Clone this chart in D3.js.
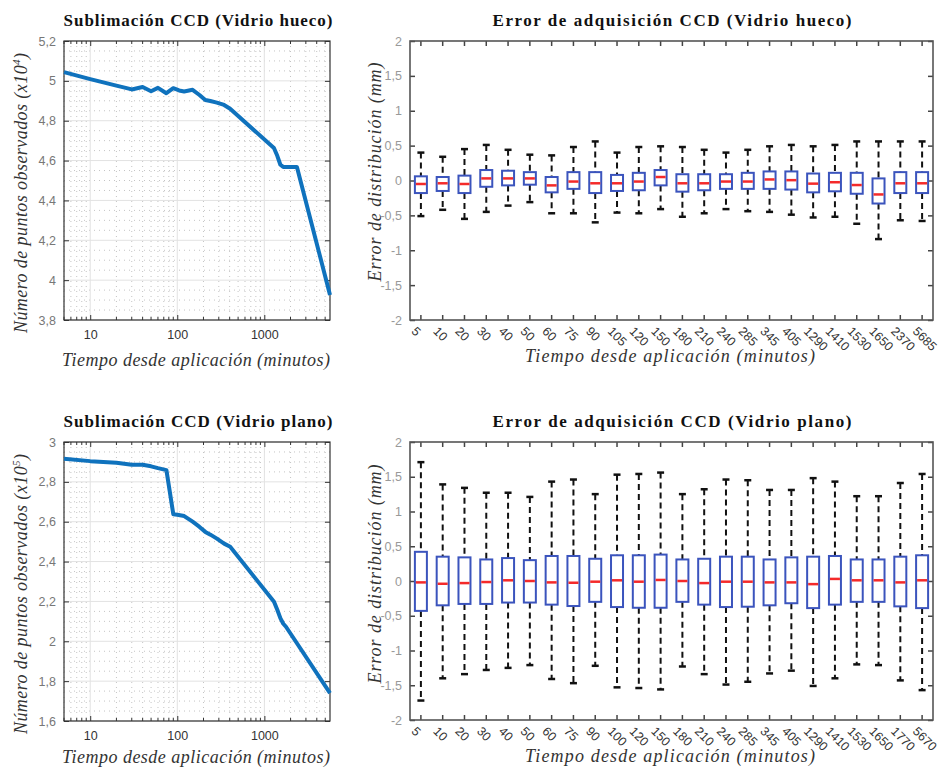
<!DOCTYPE html>
<html>
<head>
<meta charset="utf-8">
<script src="https://cdn.jsdelivr.net/npm/d3@7"></script>
<style>
  body { margin: 0; background: #fff; }
  svg text { font-family: "Liberation Sans", Arial, sans-serif; }
</style>
</head>
<body>
<div id="chart"></div>
<script>
// --- Sublimacion: tiempo (min) y numero de puntos observados ---
const huecoTiempos = [5, 10, 20, 30, 40, 50, 60, 75, 90, 105, 120, 150, 180, 210, 240, 285, 345, 405, 1290, 1410, 1530, 1650, 2370, 5685];
const huecoPuntos = [5.044, 5.009, 4.976, 4.957, 4.969, 4.948, 4.965, 4.938, 4.963, 4.952, 4.947, 4.955, 4.929, 4.904, 4.899, 4.891, 4.879, 4.86, 4.663, 4.624, 4.579, 4.568, 4.568, 3.926];

const planoTiempos = [5, 10, 20, 30, 40, 50, 60, 75, 90, 100, 120, 150, 180, 210, 240, 285, 345, 405, 1290, 1410, 1530, 1650, 1770, 5670];
const planoPuntos = [2.916, 2.904, 2.896, 2.886, 2.886, 2.878, 2.869, 2.859, 2.6375, 2.635, 2.6285, 2.60, 2.574, 2.549, 2.535, 2.515, 2.49, 2.474, 2.1985, 2.157, 2.115, 2.088, 2.073, 1.74];

// --- Error de adquisicion: estadisticos de cada caja (mm) ---
const huecoEtiquetas = ["5", "10", "20", "30", "40", "50", "60", "75", "90", "105", "120", "150", "180", "210", "240", "285", "345", "405", "1290", "1410", "1530", "1650", "2370", "5685"];
const huecoBigoteSup = [0.40, 0.34, 0.45, 0.51, 0.44, 0.37, 0.36, 0.48, 0.56, 0.40, 0.48, 0.49, 0.48, 0.44, 0.40, 0.44, 0.49, 0.51, 0.49, 0.51, 0.56, 0.56, 0.56, 0.56];
const huecoQ3 = [0.06, 0.05, 0.07, 0.15, 0.14, 0.12, 0.05, 0.12, 0.12, 0.08, 0.11, 0.15, 0.09, 0.09, 0.09, 0.11, 0.13, 0.13, 0.10, 0.11, 0.11, 0.03, 0.12, 0.12];
const huecoMediana = [-0.05, -0.04, -0.05, 0.03, 0.03, 0.03, -0.07, -0.015, -0.04, -0.04, -0.015, 0.05, -0.04, -0.04, -0.015, -0.015, 0.015, 0.005, -0.045, -0.025, -0.065, -0.20, -0.04, -0.04];
const huecoQ1 = [-0.18, -0.15, -0.18, -0.09, -0.07, -0.06, -0.17, -0.12, -0.18, -0.15, -0.14, -0.07, -0.16, -0.14, -0.12, -0.12, -0.12, -0.13, -0.17, -0.155, -0.19, -0.33, -0.18, -0.18];
const huecoBigoteInf = [-0.51, -0.42, -0.55, -0.45, -0.36, -0.31, -0.47, -0.47, -0.60, -0.46, -0.47, -0.41, -0.52, -0.47, -0.41, -0.44, -0.45, -0.49, -0.53, -0.52, -0.62, -0.84, -0.57, -0.58];

const planoEtiquetas = ["5", "10", "20", "30", "40", "50", "60", "75", "90", "100", "120", "150", "180", "210", "240", "285", "345", "405", "1290", "1410", "1530", "1650", "1770", "5670"];
const planoBigoteSup = [1.71, 1.39, 1.34, 1.27, 1.27, 1.21, 1.43, 1.46, 1.25, 1.53, 1.54, 1.56, 1.25, 1.32, 1.46, 1.45, 1.31, 1.31, 1.48, 1.43, 1.22, 1.22, 1.41, 1.54];
const planoQ3 = [0.42, 0.35, 0.34, 0.31, 0.33, 0.30, 0.36, 0.36, 0.32, 0.37, 0.37, 0.38, 0.31, 0.32, 0.35, 0.35, 0.31, 0.34, 0.35, 0.36, 0.31, 0.31, 0.35, 0.37];
const planoMediana = [-0.02, -0.04, -0.03, -0.015, 0.01, 0.0, -0.02, -0.025, -0.01, 0.01, -0.01, 0.015, 0.0, -0.03, -0.01, -0.01, -0.02, -0.02, -0.045, 0.03, 0.01, 0.01, -0.02, 0.01];
const planoQ1 = [-0.43, -0.35, -0.33, -0.33, -0.31, -0.31, -0.34, -0.36, -0.30, -0.375, -0.385, -0.385, -0.30, -0.34, -0.375, -0.37, -0.35, -0.32, -0.39, -0.34, -0.30, -0.30, -0.365, -0.39];
const planoBigoteInf = [-1.72, -1.40, -1.34, -1.28, -1.25, -1.21, -1.41, -1.47, -1.22, -1.53, -1.54, -1.56, -1.23, -1.34, -1.49, -1.45, -1.33, -1.29, -1.51, -1.40, -1.20, -1.21, -1.43, -1.57];

// tick labels
const ticksLog = [10, 100, 1000];
const ticksHueco = [3.8, 4, 4.2, 4.4, 4.6, 4.8, 5, 5.2];
const ticksPlano = [1.6, 1.8, 2, 2.2, 2.4, 2.6, 2.8, 3];
const ticksError = [-2, -1.5, -1, -0.5, 0, 0.5, 1, 1.5, 2];

const width = 941, height = 769;
const coma = d => String(+d.toFixed(2)).replace(".", ",");

const svg = d3.select("#chart").append("svg")
  .attr("width", width)
  .attr("height", height);

function titulo(txt, cx, y, len) {
  svg.append("text")
    .attr("x", cx).attr("y", y)
    .attr("text-anchor", "middle")
    .style("font-family", "'Liberation Serif', 'Times New Roman', serif")
    .style("font-weight", "bold")
    .style("font-size", "17px")
    .attr("textLength", len)
    .attr("lengthAdjust", "spacing")
    .attr("fill", "#111")
    .text(txt);
}

function etiquetaX(cx, y, len) {
  svg.append("text")
    .attr("x", cx).attr("y", y)
    .attr("text-anchor", "middle")
    .style("font-family", "'Liberation Serif', 'Times New Roman', serif")
    .style("font-style", "italic")
    .style("font-size", "18px")
    .attr("textLength", len)
    .attr("lengthAdjust", "spacing")
    .attr("fill", "#333")
    .text("Tiempo desde aplicación (minutos)");
}

function etiquetaY(cx, cy, len, txt, sup) {
  const t = svg.append("text")
    .attr("transform", `translate(${cx},${cy}) rotate(-90)`)
    .attr("text-anchor", "middle")
    .style("font-family", "'Liberation Serif', 'Times New Roman', serif")
    .style("font-style", "italic")
    .style("font-size", "18px")
    .attr("fill", "#333");
  t.append("tspan").text(txt);
  if (sup) {
    t.append("tspan").attr("dy", -7).style("font-size", "11px").text(sup);
    t.append("tspan").attr("dy", 7).text(")");
  }
  if (len) t.attr("textLength", len).attr("lengthAdjust", "spacing");
}

// ---- line panel (log x) ----
function panelLinea(tiempos, puntos, box, yDom, yTicks) {
  const x = d3.scaleLog().domain([tiempos[0], tiempos[tiempos.length - 1]]).range([box.x0, box.x1]);
  const y = d3.scaleLinear().domain(yDom).range([box.y1, box.y0]);
  const g = svg.append("g");

  // minor grid
  const minX = x.ticks().filter(t => ticksLog.indexOf(t) < 0);
  const minY = d3.range(yDom[0], yDom[1] + 1e-9, 0.05).filter(v => Math.abs(v * 5 - Math.round(v * 5)) > 1e-6);
  g.selectAll(".mx").data(minX).join("line")
    .attr("x1", d => x(d)).attr("x2", d => x(d))
    .attr("y1", box.y0).attr("y2", box.y1)
    .attr("stroke", "#c4c4c4").attr("stroke-dasharray", "1,4");
  g.selectAll(".my").data(minY).join("line")
    .attr("x1", box.x0).attr("x2", box.x1)
    .attr("y1", d => y(d)).attr("y2", d => y(d))
    .attr("stroke", "#c4c4c4").attr("stroke-dasharray", "1,4");
  // major grid
  g.selectAll(".gx").data(ticksLog).join("line")
    .attr("x1", d => x(d)).attr("x2", d => x(d))
    .attr("y1", box.y0).attr("y2", box.y1)
    .attr("stroke", "#e2e2e2");
  g.selectAll(".gy").data(yTicks).join("line")
    .attr("x1", box.x0).attr("x2", box.x1)
    .attr("y1", d => y(d)).attr("y2", d => y(d))
    .attr("stroke", "#e2e2e2");

  // axes
  const ax = g.append("g").attr("transform", `translate(0,${box.y1})`)
    .call(d3.axisBottom(x).tickValues(ticksLog).tickFormat(d3.format("d")).tickSize(-5).tickPadding(10));
  ax.selectAll("text").attr("fill", "#333").style("font-size", "12.5px");
  g.append("g").attr("transform", `translate(0,${box.y0})`)
    .call(d3.axisTop(x).tickValues(ticksLog).tickFormat("").tickSize(-5));
  // minor ticks on top and bottom
  g.selectAll(".mtb").data(minX).join("line")
    .attr("x1", d => x(d)).attr("x2", d => x(d))
    .attr("y1", box.y1).attr("y2", box.y1 - 3).attr("stroke", "#333");
  g.selectAll(".mtt").data(minX).join("line")
    .attr("x1", d => x(d)).attr("x2", d => x(d))
    .attr("y1", box.y0).attr("y2", box.y0 + 3).attr("stroke", "#333");
  const ay = g.append("g").attr("transform", `translate(${box.x0},0)`)
    .call(d3.axisLeft(y).tickValues(yTicks).tickFormat(coma).tickSize(-5).tickPadding(8));
  ay.selectAll("text").attr("fill", "#777").style("font-size", "12.5px");
  g.append("g").attr("transform", `translate(${box.x1},0)`)
    .call(d3.axisRight(y).tickValues(yTicks).tickFormat("").tickSize(-5));
  g.selectAll(".domain").attr("stroke", "none");
  g.selectAll(".tick line").attr("stroke", "#333");
  g.append("rect")
    .attr("x", box.x0).attr("y", box.y0)
    .attr("width", box.x1 - box.x0).attr("height", box.y1 - box.y0)
    .attr("fill", "none").attr("stroke", "#333").attr("stroke-width", 1.2);

  const linea = d3.line().x((d, i) => x(tiempos[i])).y(d => y(d));
  g.append("path")
    .datum(puntos)
    .attr("d", linea)
    .attr("fill", "none")
    .attr("stroke", "#0f72bd")
    .attr("stroke-width", 4)
    .attr("stroke-linejoin", "round");
}

// ---- box plot panel ----
function panelCajas(etiquetas, sup, q3, med, q1, inf, box) {
  const x = d3.scaleBand().domain(etiquetas).range([box.x0, box.x1]);
  const y = d3.scaleLinear().domain([-2, 2]).range([box.y1, box.y0]);
  const g = svg.append("g");
  const bw = x.bandwidth();
  const cx = d => x(d) + bw / 2;

  const ay = g.append("g").attr("transform", `translate(${box.x0},0)`)
    .call(d3.axisLeft(y).tickValues(ticksError).tickFormat(coma).tickSize(-5).tickPadding(8));
  ay.selectAll("text").attr("fill", "#999").style("font-size", "12.5px");
  g.append("g").attr("transform", `translate(${box.x1},0)`)
    .call(d3.axisRight(y).tickValues(ticksError).tickFormat("").tickSize(-5));
  g.append("g").attr("transform", `translate(0,${box.y0})`)
    .call(d3.axisTop(x).tickFormat("").tickSize(-5));
  g.append("g").attr("transform", `translate(0,${box.y1})`)
    .call(d3.axisBottom(x).tickSize(-5).tickFormat(""));
  g.selectAll(".domain").attr("stroke", "none");
  g.selectAll(".tick line").attr("stroke", "#444").attr("stroke-width", 1.5);

  g.selectAll(".lbl").data(etiquetas).join("text")
    .attr("transform", d => `translate(${cx(d) - 7},${box.y1 + 9}) rotate(45)`)
    .attr("dy", "0.35em")
    .attr("fill", "#333")
    .style("font-size", "12.5px")
    .text(d => d);

  g.append("rect")
    .attr("x", box.x0).attr("y", box.y0)
    .attr("width", box.x1 - box.x0).attr("height", box.y1 - box.y0)
    .attr("fill", "none").attr("stroke", "#555").attr("stroke-width", 1.6);

  const datos = etiquetas.map((e, i) => ({ e, sup: sup[i], q3: q3[i], med: med[i], q1: q1[i], inf: inf[i] }));
  const c = g.selectAll(".caja").data(datos).join("g");
  // whiskers
  c.append("line")
    .attr("x1", d => cx(d.e)).attr("x2", d => cx(d.e))
    .attr("y1", d => y(d.sup)).attr("y2", d => y(d.q3))
    .attr("stroke", "#111").attr("stroke-width", 2).attr("stroke-dasharray", "6,4");
  c.append("line")
    .attr("x1", d => cx(d.e)).attr("x2", d => cx(d.e))
    .attr("y1", d => y(d.q1)).attr("y2", d => y(d.inf))
    .attr("stroke", "#111").attr("stroke-width", 2).attr("stroke-dasharray", "6,4");
  // caps
  c.append("line")
    .attr("x1", d => cx(d.e) - 3.5).attr("x2", d => cx(d.e) + 3.5)
    .attr("y1", d => y(d.sup)).attr("y2", d => y(d.sup))
    .attr("stroke", "#111").attr("stroke-width", 2.5);
  c.append("line")
    .attr("x1", d => cx(d.e) - 3.5).attr("x2", d => cx(d.e) + 3.5)
    .attr("y1", d => y(d.inf)).attr("y2", d => y(d.inf))
    .attr("stroke", "#111").attr("stroke-width", 2.5);
  // box
  c.append("rect")
    .attr("x", d => cx(d.e) - 6).attr("width", 12)
    .attr("y", d => y(d.q3)).attr("height", d => y(d.q1) - y(d.q3))
    .attr("fill", "#fff").attr("stroke", "#3b54bd").attr("stroke-width", 2);
  // median
  c.append("line")
    .attr("x1", d => cx(d.e) - 5).attr("x2", d => cx(d.e) + 5)
    .attr("y1", d => y(d.med)).attr("y2", d => y(d.med))
    .attr("stroke", "#f42a2a").attr("stroke-width", 2.5);
}

// --- layout ---
const cajaTL = { x0: 64, x1: 330, y0: 41, y1: 320 };
const cajaBL = { x0: 64, x1: 330, y0: 442, y1: 721 };
const cajaTR = { x0: 410, x1: 933, y0: 41, y1: 320 };
const cajaBR = { x0: 410, x1: 933, y0: 442, y1: 720 };

panelLinea(huecoTiempos, huecoPuntos, cajaTL, [3.8, 5.2], ticksHueco);
panelLinea(planoTiempos, planoPuntos, cajaBL, [1.6, 3.0], ticksPlano);
panelCajas(huecoEtiquetas, huecoBigoteSup, huecoQ3, huecoMediana, huecoQ1, huecoBigoteInf, cajaTR);
panelCajas(planoEtiquetas, planoBigoteSup, planoQ3, planoMediana, planoQ1, planoBigoteInf, cajaBR);

titulo("Sublimación CCD (Vidrio hueco)", 198, 26, 269);
titulo("Error de adquisición CCD (Vidrio hueco)", 672, 26, 359);
titulo("Sublimación CCD (Vidrio plano)", 198, 427, 269);
titulo("Error de adquisición CCD (Vidrio plano)", 672, 427, 359);

etiquetaX(196, 366, 268);
etiquetaX(670, 362, 290);
etiquetaX(196, 763, 268);
etiquetaX(670, 762, 290);

etiquetaY(27, 193, 280, "Número de puntos observados (x10", "4");
etiquetaY(27, 594, 280, "Número de puntos observados (x10", "5");
etiquetaY(381, 172, 219, "Error de distribución (mm)");
etiquetaY(381, 574, 219, "Error de distribución (mm)");
</script>
</body>
</html>
